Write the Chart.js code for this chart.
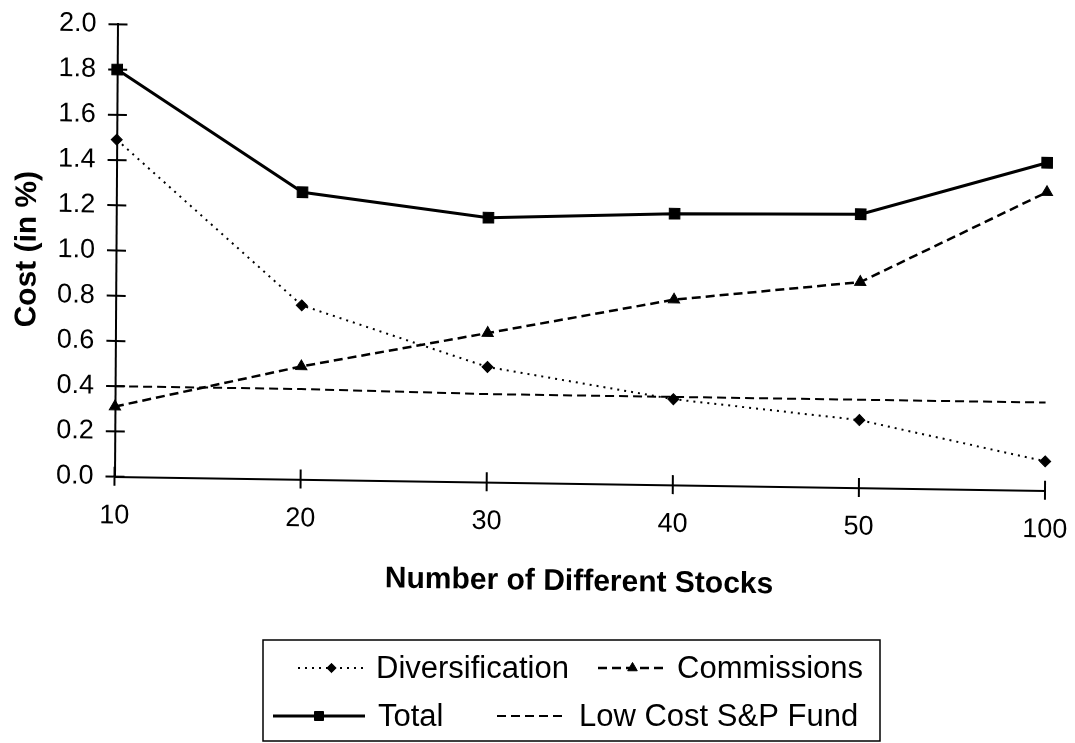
<!DOCTYPE html>
<html>
<head>
<meta charset="utf-8">
<script src="https://cdn.jsdelivr.net/npm/chart.js@4.4.1/dist/chart.umd.min.js"></script>
<style>
  html, body { margin: 0; padding: 0; background: #fff; }
  #wrap { position: relative; width: 1075px; height: 743px; }
</style>
</head>
<body>
<div id="wrap"><canvas id="c" width="1075" height="743"></canvas></div>
<script>
// Portfolio size (number of different stocks held)
const stockCounts = ['10', '20', '30', '40', '50', '100'];

// Annual cost components, in %
const diversification = [1.49, 0.77, 0.51, 0.38, 0.30, 0.13];
const commissions     = [0.31, 0.50, 0.66, 0.82, 0.91, 1.32];
const total           = [1.80, 1.27, 1.17, 1.20, 1.21, 1.45];
const lowCostFund     = [0.40, 0.40, 0.39, 0.39, 0.39, 0.39];

// Cost axis
const costMin = 0;
const costMax = 2.0;
const costStep = 0.2;

const seriesNames = ['Diversification', 'Commissions', 'Total', 'Low Cost S&P Fund'];

const FONT = "'Liberation Sans', Arial, Helvetica, sans-serif";
const INK = '#000';

// The printed page sits slightly askew; the plot is drawn with that tilt.
const tilt = { a: 1, b: 0.0151, c: -0.0066, d: 1 };

const tiltAndLegend = {
  id: 'tiltAndLegend',
  beforeDraw(chart) {
    const { ctx, chartArea } = chart;
    ctx.save();
    ctx.translate(chartArea.left, chartArea.bottom);
    ctx.transform(tilt.a, tilt.b, tilt.c, tilt.d, 0, 0);
    ctx.translate(-chartArea.left, -chartArea.bottom);
  },
  afterDraw(chart) {
    const ctx = chart.ctx;
    ctx.restore();
    drawLegend(chart);
  }
};

// Axis tick marks that cross both axes
const crossTicks = {
  id: 'crossTicks',
  beforeDatasetsDraw(chart) {
    const { ctx, chartArea, scales } = chart;
    const out = 9, inn = 10;
    ctx.save();
    ctx.strokeStyle = INK;
    ctx.lineWidth = 2;
    ctx.setLineDash([]);
    ctx.beginPath();
    scales.y.ticks.forEach(t => {
      const py = scales.y.getPixelForValue(t.value);
      ctx.moveTo(chartArea.left - out, py);
      ctx.lineTo(chartArea.left + inn, py);
    });
    scales.x.ticks.forEach((t, i) => {
      const px = scales.x.getPixelForTick(i);
      ctx.moveTo(px, chartArea.bottom - inn);
      ctx.lineTo(px, chartArea.bottom + out);
    });
    ctx.stroke();
    ctx.restore();
  }
};

// Boxed legend: two rows, line sample with marker, then label
const legendLayout = {
  box: { left: 263, top: 640, right: 880, bottom: 741 },
  rows: [668, 716],
  font: 31,
  items: [
    { ds: 0, row: 0, x0: 298, x1: 365, tx: 376 },
    { ds: 1, row: 0, x0: 598, x1: 667, tx: 677 },
    { ds: 2, row: 1, x0: 273, x1: 365, tx: 378 },
    { ds: 3, row: 1, x0: 497, x1: 562, tx: 579 }
  ]
};

function drawLegend(chart) {
  const ctx = chart.ctx;
  const L = legendLayout;
  ctx.save();
  ctx.strokeStyle = INK;
  ctx.lineWidth = 1.5;
  ctx.setLineDash([]);
  ctx.strokeRect(L.box.left, L.box.top, L.box.right - L.box.left, L.box.bottom - L.box.top);

  L.items.forEach(it => {
    const ds = chart.data.datasets[it.ds];
    const y = L.rows[it.row];
    ctx.save();
    ctx.strokeStyle = ds.borderColor;
    ctx.lineWidth = ds.borderWidth;
    ctx.setLineDash(ds.borderDash || []);
    ctx.beginPath();
    ctx.moveTo(it.x0, y);
    ctx.lineTo(it.x1, y);
    ctx.stroke();
    ctx.restore();
    if (ds.pointRadius > 0) {
      ctx.save();
      ctx.setLineDash([]);
      ctx.fillStyle = ds.pointBackgroundColor;
      ctx.strokeStyle = ds.pointBorderColor;
      ctx.lineWidth = ds.pointBorderWidth;
      Chart.helpers.drawPoint(ctx, {
        pointStyle: ds.pointStyle,
        radius: ds.pointRadius * 0.85,
        borderWidth: ds.pointBorderWidth,
        rotation: 0
      }, (it.x0 + it.x1) / 2, y);
      ctx.restore();
    }
    ctx.fillStyle = INK;
    ctx.font = L.font + 'px ' + FONT;
    ctx.textAlign = 'left';
    ctx.textBaseline = 'middle';
    ctx.fillText(ds.label, it.tx, y + 1);
  });
  ctx.restore();
}

function series(label, data, style) {
  return Object.assign({
    label,
    data,
    borderColor: INK,
    backgroundColor: INK,
    pointBackgroundColor: INK,
    pointBorderColor: INK,
    pointBorderWidth: 1,
    fill: false,
    tension: 0,
    clip: false
  }, style);
}

new Chart(document.getElementById('c'), {
  type: 'line',
  data: {
    labels: stockCounts,
    datasets: [
      series(seriesNames[0], diversification, {
        borderWidth: 2, borderDash: [2, 5], pointStyle: 'rectRot', pointRadius: 5.5
      }),
      series(seriesNames[1], commissions, {
        borderWidth: 2.5, borderDash: [9, 5], pointStyle: 'triangle', pointRadius: 6.5
      }),
      series(seriesNames[2], total, {
        borderWidth: 3, borderDash: [], pointStyle: 'rect', pointRadius: 7.5
      }),
      series(seriesNames[3], lowCostFund, {
        borderWidth: 2, borderDash: [9, 5], pointRadius: 0
      })
    ]
  },
  options: {
    responsive: false,
    animation: false,
    devicePixelRatio: 1,
    layout: { padding: { left: 0, top: 24.3, right: 30, bottom: 147 } },
    plugins: {
      legend: { display: false },
      title: { display: false },
      tooltip: { enabled: false }
    },
    scales: {
      x: {
        type: 'category',
        offset: false,
        grid: { display: false, drawTicks: false },
        border: { display: true, color: INK, width: 2 },
        ticks: {
          color: INK, font: { family: FONT, size: 27 },
          padding: 23, maxRotation: 0, autoSkip: false
        },
        title: {
          display: true, text: 'Number of Different Stocks', color: INK,
          font: { family: FONT, size: 30, weight: 'bold' },
          padding: { top: 0, bottom: 3 }
        },
        afterFit(scale) {
          scale.height = 119.3;
          scale.paddingLeft = 0;
          scale.paddingRight = 0;
        }
      },
      y: {
        min: costMin, max: costMax,
        grid: { display: false, drawTicks: false },
        border: { display: true, color: INK, width: 2 },
        ticks: {
          stepSize: costStep, color: INK, font: { family: FONT, size: 27 },
          padding: 21,
          callback: v => Number(v).toFixed(1)
        },
        title: {
          display: true, text: 'Cost (in %)', color: INK,
          font: { family: FONT, size: 30, weight: 'bold' },
          padding: { top: 8, bottom: 0 }
        },
        afterFit(scale) {
          scale.width = 114.5;
          scale.paddingTop = 0;
          scale.paddingBottom = 0;
        }
      }
    }
  },
  plugins: [tiltAndLegend, crossTicks]
});
</script>
</body>
</html>
